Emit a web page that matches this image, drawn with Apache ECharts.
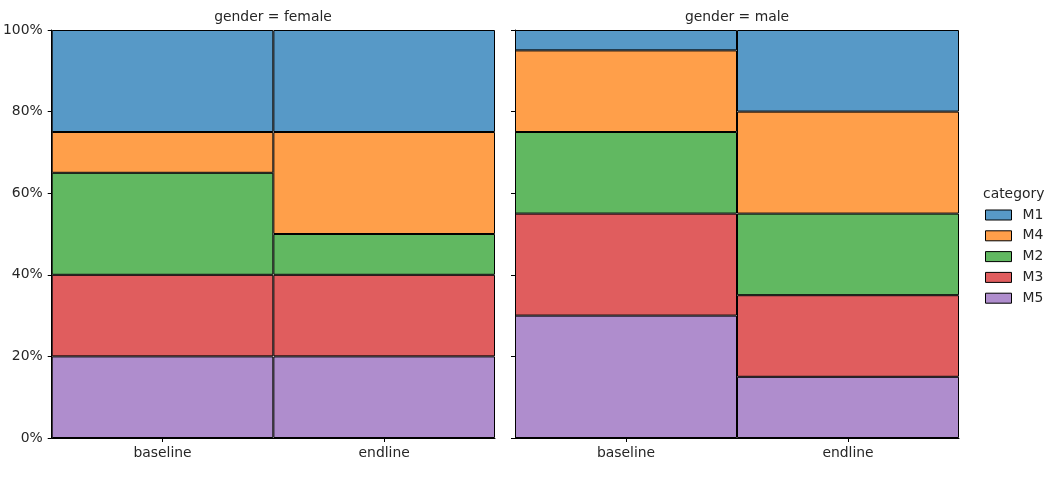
<!DOCTYPE html>
<html>
<head>
<meta charset="utf-8">
<script src="https://cdn.jsdelivr.net/npm/echarts@6/dist/echarts.min.js"></script>
<style>
html,body{margin:0;padding:0;background:#fff;}
#chart{width:1051px;height:497px;}
</style>
</head>
<body>
<div id="chart"></div>
<script>
// ---- data ----
const categories = ['baseline', 'endline'];
const facets = ['female', 'male'];
const hueOrder = ['M1', 'M4', 'M2', 'M3', 'M5'];   // legend order (top of stack first)
const stackOrder = ['M5', 'M3', 'M2', 'M4', 'M1']; // bottom to top
const yTicks = [0, 20, 40, 60, 80, 100];

// percentage share per category: [baseline, endline]
const femaleM1 = [25, 25];
const femaleM4 = [10, 25];
const femaleM2 = [25, 10];
const femaleM3 = [20, 20];
const femaleM5 = [20, 20];

const maleM1 = [5, 20];
const maleM4 = [20, 25];
const maleM2 = [20, 20];
const maleM3 = [25, 20];
const maleM5 = [30, 15];

const femaleData = { M1: femaleM1, M4: femaleM4, M2: femaleM2, M3: femaleM3, M5: femaleM5 };
const maleData = { M1: maleM1, M4: maleM4, M2: maleM2, M3: maleM3, M5: maleM5 };
const facetData = [femaleData, maleData];

const colors = { M1: '#5799c7', M4: '#ff9f4a', M2: '#61b861', M3: '#e05d5e', M5: '#af8dcd' };
const FONT = 'DejaVu Sans';
const FS = 13.9;
const TXT = '#262626';

const chart = echarts.init(document.getElementById('chart'), null, { renderer: 'canvas' });

const grids = [
  { left: 51, right: 556, top: 30, bottom: 59 },
  { left: 515, right: 92, top: 30, bottom: 59 }
];

const xAxes = grids.map((g, i) => ({
  type: 'category', gridIndex: i, data: categories,
  axisLine: { show: true, lineStyle: { color: '#000', width: 1 } },
  axisTick: { show: true, alignWithLabel: true, length: 4, lineStyle: { color: '#000' } },
  axisLabel: { color: TXT, fontFamily: FONT, fontSize: FS, margin: 8 },
  splitLine: { show: false }
}));

const yAxes = grids.map((g, i) => ({
  type: 'value', gridIndex: i, min: 0, max: 100, interval: 20,
  axisLine: { show: true, lineStyle: { color: '#000', width: 1 } },
  axisTick: { show: true, length: 4, lineStyle: { color: '#000' } },
  axisLabel: { show: i === 0, color: TXT, fontFamily: FONT, fontSize: FS, margin: 9,
    formatter: v => yTicks.includes(v) ? v + '%' : '' },
  splitLine: { show: false }
}));

const series = [];
facetData.forEach((fd, i) => {
  stackOrder.forEach(k => {
    series.push({
      name: k, type: 'bar', xAxisIndex: i, yAxisIndex: i, stack: 'f' + i,
      data: fd[k], barWidth: '100%', barCategoryGap: 0,
      itemStyle: { color: colors[k], borderColor: '#000', borderWidth: 1 },
      emphasis: { disabled: true }
    });
  });
});

chart.setOption({
  animation: false,
  backgroundColor: '#fff',
  textStyle: { fontFamily: FONT },
  title: [
    { text: 'gender = female', left: 273, top: 10, textAlign: 'center', padding: 0,
      textStyle: { fontFamily: FONT, fontSize: FS, fontWeight: 'normal', color: TXT } },
    { text: 'gender = male', left: 737, top: 10, textAlign: 'center', padding: 0,
      textStyle: { fontFamily: FONT, fontSize: FS, fontWeight: 'normal', color: TXT } },
    { text: 'category', left: 983, top: 187, padding: 0,
      textStyle: { fontFamily: FONT, fontSize: FS, fontWeight: 'normal', color: TXT } }
  ],
  legend: {
    orient: 'vertical', left: 985, top: 208, padding: 0,
    data: hueOrder, icon: 'rect', itemWidth: 26, itemHeight: 10, itemGap: 6.8,
    selectedMode: false,
    itemStyle: { borderColor: '#000', borderWidth: 1 },
    textStyle: { fontFamily: FONT, fontSize: FS, color: TXT, padding: [0, 0, 0, 6] }
  },
  grid: grids,
  xAxis: xAxes,
  yAxis: yAxes,
  series: series
});
</script>
</body>
</html>
